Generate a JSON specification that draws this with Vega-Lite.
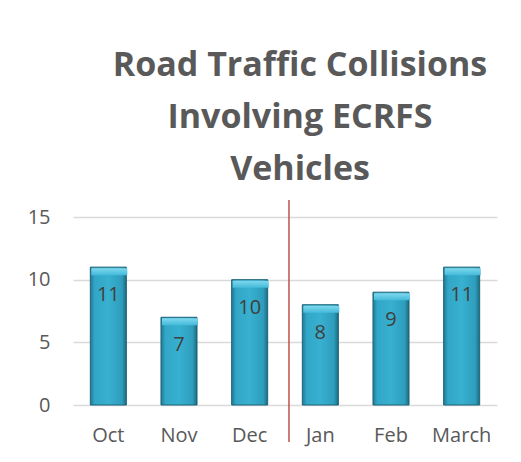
{
  "$schema": "https://vega.github.io/schema/vega-lite/v6.json",
  "width": 424,
  "height": 188,
  "autosize": {"type": "none"},
  "padding": {"left": 73, "top": 217, "right": 24, "bottom": 57},
  "background": "white",
  "config": {
    "view": {"stroke": null},
    "font": "Open Sans"
  },
  "title": {
    "text": ["Road Traffic Collisions", "Involving ECRFS", "Vehicles"],
    "fontSize": 34,
    "fontWeight": "bold",
    "color": "#595959",
    "font": "Open Sans",
    "lineHeight": 52,
    "anchor": "middle",
    "dx": 15,
    "offset": 12
  },
  "datasets": {
    "bars": [
      {"month": "Oct", "count": 11},
      {"month": "Nov", "count": 7},
      {"month": "Dec", "count": 10},
      {"month": "Jan", "count": 8},
      {"month": "Feb", "count": 9},
      {"month": "March", "count": 11}
    ],
    "divider": [
      {"month": "Jan", "top": 16.35, "bottom": -2.95}
    ]
  },
  "layer": [
    {
      "data": {"name": "bars"},
      "mark": {
        "type": "bar",
        "stroke": "#1d6478",
        "strokeWidth": 1,
        "color": {
          "gradient": "linear",
          "x1": 0, "y1": 0, "x2": 1, "y2": 0,
          "stops": [
            {"offset": 0, "color": "#1f7a94"},
            {"offset": 0.12, "color": "#32a6c6"},
            {"offset": 0.5, "color": "#38b0d0"},
            {"offset": 0.88, "color": "#2e9dbc"},
            {"offset": 1, "color": "#1b6a80"}
          ]
        }
      },
      "encoding": {
        "x": {
          "field": "month",
          "type": "nominal",
          "sort": null,
          "scale": {"paddingInner": 0.49, "paddingOuter": 0.245},
          "axis": {
            "title": null,
            "labelAngle": 0,
            "labelFontSize": 20,
            "labelColor": "#595959",
            "labelPadding": 20,
            "ticks": false,
            "domain": false
          }
        },
        "y": {
          "field": "count",
          "type": "quantitative",
          "scale": {"domain": [0, 15], "nice": false},
          "axis": {
            "title": null,
            "values": [0, 5, 10, 15],
            "labelFontSize": 20,
            "labelColor": "#595959",
            "labelPadding": 23,
            "ticks": false,
            "domain": false,
            "gridColor": "#d9d9d9",
            "gridWidth": 1.5
          }
        }
      }
    },
    {
      "data": {"name": "bars"},
      "mark": {
        "type": "bar",
        "strokeWidth": 0,
        "y2Offset": 8,
        "xOffset": 1,
        "x2Offset": -1,
        "yOffset": 1,
        "color": {
          "gradient": "linear",
          "x1": 0, "y1": 0, "x2": 0, "y2": 1,
          "stops": [
            {"offset": 0, "color": "#7fd8ee"},
            {"offset": 1, "color": "#45bada"}
          ]
        }
      },
      "encoding": {
        "x": {"field": "month", "type": "nominal", "sort": null},
        "y": {"field": "count", "type": "quantitative"},
        "y2": {"field": "count"}
      }
    },
    {
      "data": {"name": "bars"},
      "mark": {
        "type": "text",
        "baseline": "middle",
        "dy": 28,
        "fontSize": 20,
        "color": "#404040"
      },
      "encoding": {
        "x": {"field": "month", "type": "nominal", "sort": null},
        "y": {"field": "count", "type": "quantitative"},
        "text": {"field": "count", "type": "quantitative"}
      }
    },
    {
      "data": {"name": "divider"},
      "mark": {"type": "rule", "color": "#c0504d", "strokeWidth": 1.5},
      "encoding": {
        "x": {"field": "month", "type": "nominal", "sort": null, "bandPosition": -0.37},
        "y": {"field": "top", "type": "quantitative"},
        "y2": {"field": "bottom"}
      }
    }
  ]
}
